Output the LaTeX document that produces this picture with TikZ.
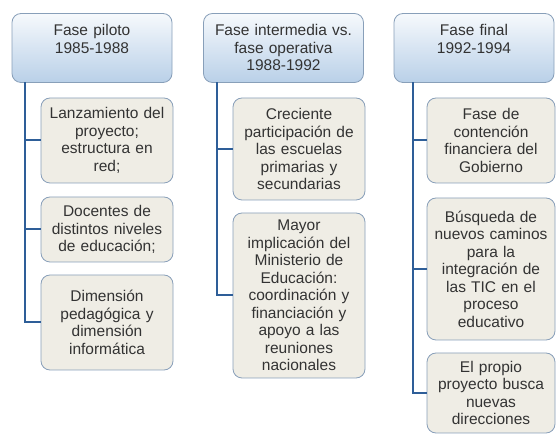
\documentclass[tikz,border=0pt]{standalone}
\usepackage{fontspec}
\setmainfont{Liberation Sans}
\usetikzlibrary{positioning}
\definecolor{linkblue}{HTML}{2E5E98}
\definecolor{boxedge}{HTML}{889FB9}
\definecolor{headtop}{HTML}{F6F9FC}
\definecolor{headbot}{HTML}{B9D0E8}
\definecolor{itemfill}{HTML}{EFEDE5}
\definecolor{txt}{HTML}{333333}

\begin{document}
\begin{tikzpicture}[x=1pt,y=-1pt,
        head/.style={draw=boxedge,line width=0.8pt,rounded corners=9pt,
            top color=headtop,bottom color=headbot,text=txt,
            align=center,font=\fontsize{15.5}{17.5}\selectfont,
            minimum height=69pt,text width=160pt,inner sep=0pt,
            text height=14pt,text depth=38pt},
        item/.style={draw=boxedge,line width=0.8pt,rounded corners=9pt,
            fill=itemfill,text=txt,align=center,
            font=\fontsize{15.5}{17.5}\selectfont,inner sep=0pt}, 
        link/.style={draw=linkblue,line width=2pt}]
        \useasboundingbox (0,0) rectangle (560,435);

        \node[head] at (92,48)(h1){Fase piloto\\1985-1988};
        \node[head] at (283.5,48)(h2){Fase intermedia vs.\\fase operativa\\1988-1992};
        \node[head] at (474,48)(h3){Fase final\\1992-1994};

        \node[item,text width=132pt,minimum height=85pt] at (107,140.5)(c11){Lanzamiento del\\proyecto;\\estructura en\\red;};
        \node[item,text width=132pt,minimum height=65pt] at (107,229.5)(c12){Docentes de\\distintos niveles\\de educación;};
        \node[item,text width=132pt,minimum height=95pt] at (107,322.5)(c13){Dimensión\\pedagógica y\\dimensión\\informática};

        \node[item,text width=132pt,minimum height=102pt] at (299,149)(c21){Creciente\\participación de\\las escuelas\\primarias y\\secundarias};
        \node[item,text width=132pt,minimum height=165pt] at (299,295.5)(c22){Mayor\\implicación del\\Ministerio de\\Educación:\\coordinación y\\financiación y\\apoyo a las\\reuniones\\nacionales};

        \node[item,text width=128pt,minimum height=85pt] at (491,140.5)(c31){Fase de\\contención\\financiera del\\Gobierno};
        \node[item,text width=128pt,minimum height=142pt] at (491,269)(c32){Búsqueda de\\nuevos caminos\\para la\\integración de\\las TIC en el\\proceso\\educativo};
        \node[item,text width=128pt,minimum height=80pt] at (491,393)(c33){El propio\\proyecto busca\\nuevas\\direcciones};

        \coordinate (v1) at (25,82.5);
        \coordinate (v2) at (217,82.5);
        \coordinate (v3) at (413,82.5);

        \path[link]
        (v1) |- (c11.west)
        (v1) |- (c12.west)
        (v1) |- (c13.west)
        (v2) |- (c21.west)
        (v2) |- (c22.west)
        (v3) |- (c31.west)
        (v3) |- (c32.west)
        (v3) |- (c33.west)
        ;
    \end{tikzpicture}
\end{document}
